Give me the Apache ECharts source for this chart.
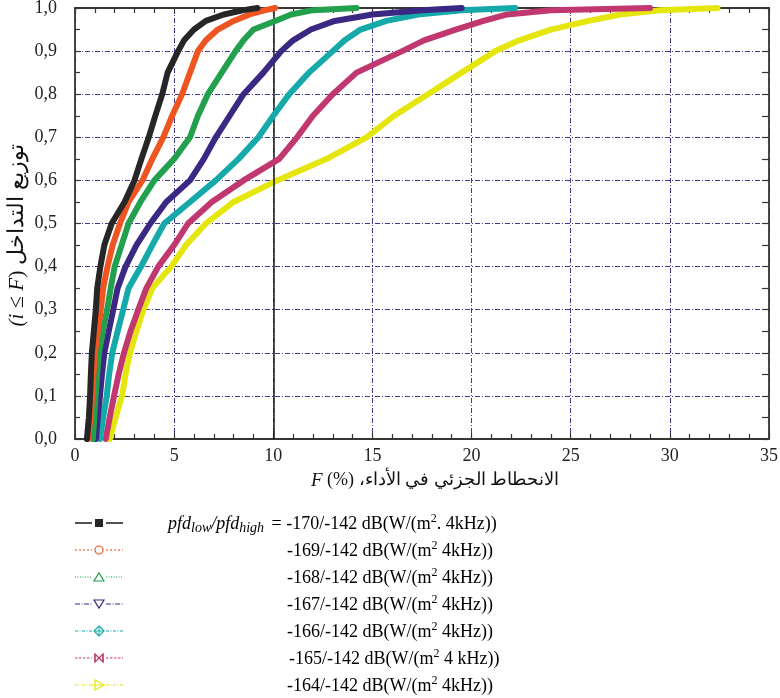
<!DOCTYPE html>
<html>
<head>
<meta charset="utf-8">
<script src="https://cdn.jsdelivr.net/npm/echarts@6/dist/echarts.min.js"></script>
<style>
  html, body { margin: 0; padding: 0; background: #fff; }
  #chart { width: 780px; height: 698px; }
</style>
</head>
<body>
<div id="chart"></div>
<script>
// Cumulative probability levels at which each curve's F (%) is given
const probLevels = [0, 0.05, 0.1, 0.15, 0.2, 0.25, 0.3, 0.35, 0.4, 0.45, 0.5, 0.55, 0.6, 0.65, 0.7, 0.75, 0.8, 0.85, 0.9, 0.925, 0.95, 0.97, 0.985, 0.995, 1.0];

// F (%) values for each pfd_low/pfd_high case
const f170 = [0.6, 0.7, 0.76, 0.8, 0.85, 0.95, 1.05, 1.12, 1.28, 1.48, 1.85, 2.5, 3.0, 3.35, 3.72, 4.05, 4.4, 4.67, 5.2, 5.5, 6.0, 6.6, 7.5, 8.5, 9.2];
const f169 = [0.67, 0.78, 0.87, 0.93, 1.0, 1.15, 1.3, 1.42, 1.64, 1.9, 2.27, 2.7, 3.4, 3.9, 4.45, 4.9, 5.4, 5.8, 6.2, 6.6, 7.2, 8.0, 8.8, 9.6, 10.1];
const f168 = [0.9, 0.97, 1.04, 1.12, 1.21, 1.4, 1.62, 1.8, 2.0, 2.35, 2.7, 3.3, 4.0, 5.0, 5.8, 6.2, 6.7, 7.4, 8.1, 8.5, 9.0, 10.1, 10.9, 12.0, 14.2];
const f167 = [1.05, 1.15, 1.26, 1.36, 1.48, 1.7, 1.93, 2.15, 2.55, 3.1, 3.8, 4.6, 5.8, 6.5, 7.1, 7.8, 8.5, 9.5, 10.4, 11.0, 11.9, 13.1, 15.0, 17.5, 19.5];
const f166 = [1.26, 1.42, 1.6, 1.72, 1.88, 2.15, 2.43, 2.7, 3.33, 3.9, 4.5, 5.8, 7.1, 8.25, 9.25, 10.0, 10.8, 11.8, 13.0, 13.6, 14.4, 15.7, 17.3, 19.5, 22.2];
const f165 = [1.55, 1.75, 1.97, 2.2, 2.47, 2.8, 3.19, 3.6, 4.2, 5.0, 5.7, 6.9, 8.5, 10.3, 11.2, 12.0, 13.0, 14.2, 16.5, 17.6, 19.2, 20.6, 21.8, 24.0, 29.0];
const f164 = [1.76, 2.05, 2.37, 2.55, 2.77, 3.1, 3.45, 3.9, 4.85, 5.6, 6.6, 8.0, 10.2, 12.7, 14.7, 16.1, 17.8, 19.5, 21.2, 22.4, 24.0, 25.9, 27.5, 29.5, 32.4];

const seriesValues = [f170, f169, f168, f167, f166, f165, f164];
const seriesNames = ['-170/-142', '-169/-142', '-168/-142', '-167/-142', '-166/-142', '-165/-142', '-164/-142'];
const seriesColors = ['#262626', '#ef5520', '#22a04e', '#3b2883', '#15a9aa', '#c0386f', '#e6e60f'];

// Legend texts (suffix after the pfd value pair)
const legendUnits = ['dB(W/(m', 'dB(W/(m', 'dB(W/(m', 'dB(W/(m', 'dB(W/(m', 'dB(W/(m', 'dB(W/(m'];
const legendTails = ['. 4kHz))', ' 4kHz))', ' 4kHz))', ' 4kHz))', ' 4kHz))', ' 4 kHz))', ' 4kHz))'];

// Axis tick labels
const xTickLabels = ['0', '5', '10', '15', '20', '25', '30', '35'];
const yTickLabels = ['0,0', '0,1', '0,2', '0,3', '0,4', '0,5', '0,6', '0,7', '0,8', '0,9', '1,0'];

const SERIF = '"Liberation Serif", "DejaVu Serif", serif';
const AXIS_COLOR = '#363636';
const GRID_COLOR = '#423a92';

const chart = echarts.init(document.getElementById('chart'), null, { renderer: 'canvas' });

const series = seriesValues.map((vals, k) => ({
  name: seriesNames[k],
  type: 'line',
  xAxisIndex: 0,
  yAxisIndex: 0,
  data: probLevels.map((p, i) => [vals[i], p]),
  symbol: 'none',
  clip: false,
  z: 10 - k,
  lineStyle: { color: seriesColors[k], width: 6, join: 'round', cap: 'round' },
  itemStyle: { color: seriesColors[k] },
  emphasis: { disabled: true },
  silent: true,
  animation: false
}));

// solid vertical reference at F = 10 %
series[0].markLine = {
  silent: true,
  symbol: 'none',
  label: { show: false },
  lineStyle: { type: 'solid', color: '#1a1a1a', width: 1.5 },
  data: [{ xAxis: 10 }],
  animation: false
};

// Legend drawn below the plot
const legendGraphics = [];
const rowTop = 523;
const rowGap = 27;
const textStyles = {
  n: { fontFamily: SERIF, fontSize: 18, color: '#111', lineHeight: 22 },
  eq: { fontFamily: SERIF, fontSize: 18, color: '#111', lineHeight: 22, padding: [0, 0, 0, 3] },
  it: { fontFamily: SERIF, fontSize: 18, fontStyle: 'italic', color: '#111', lineHeight: 22 },
  sub: { fontFamily: SERIF, fontSize: 14, fontStyle: 'italic', color: '#111', lineHeight: 12, verticalAlign: 'bottom' },
  sup: { fontFamily: SERIF, fontSize: 12, color: '#111', lineHeight: 12, verticalAlign: 'top' }
};
const sampleDash = ['solid', [2, 2], [1, 1.5], [5, 1.5, 1, 1.5], [3, 1.5, 1, 1.5], [2.5, 1.5], [3, 1.5, 1, 1.5]];

function markerShape(k, cx, cy, color) {
  const s = { stroke: color, fill: '#fff', lineWidth: 1.2 };
  switch (k) {
    case 0: return [{ type: 'rect', shape: { x: cx - 4, y: cy - 4, width: 8, height: 8 }, style: { fill: color } }];
    case 1: return [{ type: 'circle', shape: { cx: cx, cy: cy, r: 4 }, style: s }];
    case 2: return [{ type: 'polygon', shape: { points: [[cx - 5, cy + 4], [cx + 5, cy + 4], [cx, cy - 4]] }, style: s }];
    case 3: return [{ type: 'polygon', shape: { points: [[cx - 5, cy - 4], [cx + 5, cy - 4], [cx, cy + 4]] }, style: s }];
    case 4: return [
      { type: 'polygon', shape: { points: [[cx, cy - 5], [cx + 5, cy], [cx, cy + 5], [cx - 5, cy]] }, style: s },
      { type: 'line', shape: { x1: cx - 5, y1: cy, x2: cx + 5, y2: cy }, style: { stroke: color, lineWidth: 1 } },
      { type: 'line', shape: { x1: cx, y1: cy - 5, x2: cx, y2: cy + 5 }, style: { stroke: color, lineWidth: 1 } }
    ];
    case 5: return [
      { type: 'polygon', shape: { points: [[cx - 4, cy - 4], [cx + 4, cy + 4], [cx + 4, cy - 4], [cx - 4, cy + 4]] }, style: s },
      { type: 'line', shape: { x1: cx - 4, y1: cy - 4, x2: cx - 4, y2: cy + 4 }, style: { stroke: color, lineWidth: 1.2 } },
      { type: 'line', shape: { x1: cx + 4, y1: cy - 4, x2: cx + 4, y2: cy + 4 }, style: { stroke: color, lineWidth: 1.2 } }
    ];
    default: return [
      { type: 'polygon', shape: { points: [[cx - 4, cy - 5], [cx + 5, cy], [cx - 4, cy + 5]] }, style: s },
      { type: 'line', shape: { x1: cx - 7, y1: cy, x2: cx + 5, y2: cy }, style: { stroke: color, lineWidth: 1 } }
    ];
  }
}

seriesNames.forEach((name, k) => {
  const cy = rowTop + k * rowGap;
  const color = seriesColors[k];
  const lw = k === 0 ? 1.6 : 1.1;
  const dash = sampleDash[k] === 'solid' ? null : sampleDash[k];
  legendGraphics.push({ type: 'line', shape: { x1: 75, y1: cy, x2: 92, y2: cy }, style: { stroke: color, lineWidth: lw, lineDash: dash } });
  legendGraphics.push({ type: 'line', shape: { x1: 106, y1: cy, x2: 123, y2: cy }, style: { stroke: color, lineWidth: lw, lineDash: dash } });
  markerShape(k, 99, cy, color).forEach(g => legendGraphics.push(g));

  let text;
  let tx;
  if (k === 0) {
    text = '{it|pfd}{sub|low}{it|/pfd}{sub|high}{eq| = ' + name + ' ' + legendUnits[k] + '}{sup|2}{n|' + legendTails[k] + '}';
    tx = 168;
  } else {
    text = '{n|' + name + ' ' + legendUnits[k] + '}{sup|2}{n|' + legendTails[k] + '}';
    tx = k === 5 ? 289 : 287;
  }
  legendGraphics.push({
    type: 'text',
    x: tx,
    y: cy + 1,
    style: { text: text, rich: textStyles, verticalAlign: 'middle', align: 'left' }
  });
});

const option = {
  backgroundColor: '#ffffff',
  animation: false,
  grid: { left: 75, right: 11, top: 8, bottom: 259, containLabel: false, outerBoundsMode: 'none' },
  xAxis: [
    {
      type: 'value', min: 0, max: 35, interval: 5, position: 'bottom',
      name: '{i|F}{n| (%) الانحطاط الجزئي في الأداء،\u200F}',
      nameLocation: 'middle', nameGap: 32, nameMoveOverlap: false,
      nameTextStyle: {
        padding: [0, 0, 0, 26],
        rich: {
          i: { fontFamily: SERIF, fontSize: 19, fontStyle: 'italic', color: '#111' },
          n: { fontFamily: SERIF, fontSize: 18, color: '#111' }
        }
      },
      axisLine: { show: true, onZero: false, lineStyle: { color: AXIS_COLOR, width: 1.8 } },
      axisTick: { show: true, inside: true, length: 6, lineStyle: { color: AXIS_COLOR, width: 1.2 } },
      minorTick: { show: true, splitNumber: 5, length: 5, lineStyle: { color: AXIS_COLOR, width: 1.2 } },
      axisLabel: {
        margin: 8, fontFamily: SERIF, fontSize: 18, color: '#222',
        formatter: (v) => xTickLabels[Math.round(v / 5)]
      },
      splitLine: { show: true, lineStyle: { color: GRID_COLOR, width: 1, type: [5, 2, 1, 2] } }
    },
    {
      type: 'value', min: 0, max: 35, interval: 5, position: 'top',
      axisLine: { show: true, onZero: false, lineStyle: { color: AXIS_COLOR, width: 1.8 } },
      axisTick: { show: true, inside: true, length: 6, lineStyle: { color: AXIS_COLOR, width: 1.2 } },
      minorTick: { show: true, splitNumber: 5, length: 5, lineStyle: { color: AXIS_COLOR, width: 1.2 } },
      axisLabel: { show: false },
      splitLine: { show: false }
    }
  ],
  yAxis: [
    {
      type: 'value', min: 0, max: 1, interval: 0.1, position: 'left',
      name: '{i|(i}{n| ≤ }{i|F}{n|) توزيع التداخل}',
      nameLocation: 'middle', nameGap: 47, nameMoveOverlap: false,
      nameTextStyle: {
        padding: [0, 24, 0, 0],
        rich: {
          i: { fontFamily: SERIF, fontSize: 21, fontStyle: 'italic', color: '#111' },
          n: { fontFamily: SERIF, fontSize: 22, color: '#111' }
        }
      },
      axisLine: { show: true, onZero: false, lineStyle: { color: AXIS_COLOR, width: 1.8 } },
      axisTick: { show: true, inside: true, length: 6, lineStyle: { color: AXIS_COLOR, width: 1.2 } },
      minorTick: { show: true, splitNumber: 2, length: 5, lineStyle: { color: AXIS_COLOR, width: 1.2 } },
      axisLabel: {
        margin: 18, fontFamily: SERIF, fontSize: 18, color: '#222',
        formatter: (v) => yTickLabels[Math.round(v * 10)]
      },
      splitLine: { show: true, lineStyle: { color: GRID_COLOR, width: 1, type: [5, 2, 1, 2] } }
    },
    {
      type: 'value', min: 0, max: 1, interval: 0.1, position: 'right',
      axisLine: { show: true, onZero: false, lineStyle: { color: AXIS_COLOR, width: 1.8 } },
      axisTick: { show: true, inside: true, length: 7, lineStyle: { color: AXIS_COLOR, width: 1.2 } },
      minorTick: { show: true, splitNumber: 2, length: 7, lineStyle: { color: AXIS_COLOR, width: 1.2 } },
      axisLabel: { show: false },
      splitLine: { show: false }
    }
  ],
  series: series,
  graphic: legendGraphics
};

chart.setOption(option);
</script>
</body>
</html>
